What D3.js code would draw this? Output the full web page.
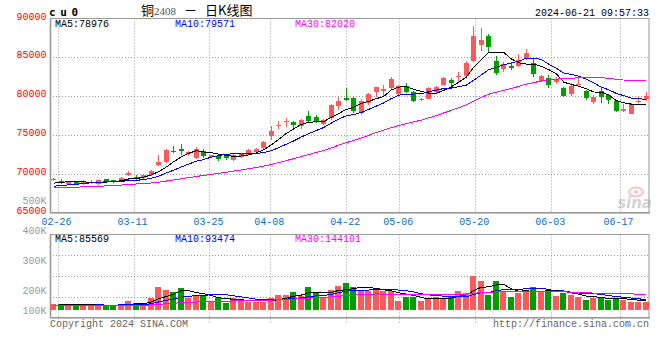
<!DOCTYPE html>
<html>
<head>
<meta charset="utf-8">
<script src="https://cdn.jsdelivr.net/npm/d3@7"></script>
<style>
  body { margin: 0; background: #fff; }
  svg { display: block; }
</style>
</head>
<body>
<svg id="chart" width="660" height="360"></svg>
<script>
// ---- data ----
var dates = ["02-23","02-26","02-27","02-28","02-29","03-01","03-04","03-05","03-06","03-07","03-08",
  "03-11","03-12","03-13","03-14","03-15","03-18","03-19","03-20","03-21","03-22",
  "03-25","03-26","03-27","03-28","03-29","04-01","04-02","04-03",
  "04-08","04-09","04-10","04-11","04-12","04-15","04-16","04-17","04-18","04-19",
  "04-22","04-23","04-24","04-25","04-26","04-29","04-30",
  "05-06","05-07","05-08","05-09","05-10","05-13","05-14","05-15","05-16","05-17",
  "05-20","05-21","05-22","05-23","05-24","05-27","05-28","05-29","05-30","05-31",
  "06-03","06-04","06-05","06-06","06-07","06-11","06-12","06-13","06-14",
  "06-17","06-18","06-19","06-20","06-21"];

var opens = [69190,69060,68720,69060,68720,68850,68720,69320,69150,69060,69870,
  69620,69490,69830,71110,71490,72990,73200,72560,72090,72990,
  72180,72350,72260,71750,72180,72480,72780,73290,
  74910,76110,76620,76620,76190,77470,77340,76450,77220,78800,
  79740,79740,77810,79100,80550,80720,81100,
  80250,81270,80590,79480,79690,80550,81400,82130,82430,82600,
  84520,86610,87720,84480,83540,83830,83920,84820,84260,82000,
  82300,81870,81060,80290,81490,80680,79310,80630,80160,
  79390,78070,77770,79270,79610];
var highs = [69530,69360,69060,69100,69150,69190,69270,69400,69230,69620,70380,
  69910,70000,70510,72480,73250,73540,73890,72900,73460,73200,
  72480,72600,72480,72690,72690,73200,73330,74190,
  76110,76830,77170,76750,77050,78030,77520,77090,78970,79950,
  81020,79910,79610,80380,81230,81400,82510,
  81490,81740,80720,79820,81150,81270,82510,82340,83110,84520,
  89000,88790,88060,85160,84430,84300,85370,86010,84860,82720,
  82720,82430,81150,81740,82430,80800,80160,81020,80290,
  79520,79010,79140,80040,80590];
var lows = [69060,68720,68630,68590,68630,68720,68630,68890,68850,68980,69700,
  69190,69400,69740,70980,71410,72690,72430,72350,71920,72050,
  72090,71620,71840,71620,72090,72390,72690,73200,
  74310,75810,76020,75590,75760,76530,76530,76280,76870,78160,
  79350,77860,77600,78880,79860,79950,80970,
  80120,80380,79310,79350,79610,80460,81320,81100,81790,82510,
  84430,85840,85630,82720,83150,83370,83790,84650,82430,81870,
  81020,81570,79860,80040,81400,79520,79010,79180,79010,
  77940,77900,77690,79100,79390];
var closes = [69400,68850,68980,68630,69060,68930,69150,68980,68930,69530,70130,
  69360,69910,70430,71580,73120,72780,72990,72780,73200,72310,
  72390,71960,72050,72480,72600,73120,73250,74060,
  75550,76280,76830,76230,76960,76830,76700,76960,78880,79440,
  79520,78030,79440,80250,81150,80930,82210,
  81320,80500,79440,79690,81060,81190,82380,81740,82640,84300,
  87720,87170,86270,82940,84090,83580,84600,85500,82900,82600,
  81490,82040,80040,81320,81610,79780,79950,79910,79520,
  78030,78370,79050,79440,79990];
var volumes = [53000,53000,47000,38000,47000,38000,47000,32000,32000,57000,84000,
  63000,38000,112000,214000,186000,168000,205000,109000,131000,124000,
  84000,106000,63000,109000,90000,75000,75000,75000,
  106000,140000,140000,168000,124000,214000,168000,106000,186000,223000,
  245000,214000,171000,171000,192000,171000,171000,
  78000,115000,121000,84000,100000,115000,109000,121000,177000,158000,
  316000,270000,137000,270000,177000,115000,152000,171000,214000,177000,
  183000,131000,152000,137000,115000,94000,109000,109000,90000,
  109000,94000,75000,75000,69000];

// closes / volumes before 02-23, estimated from where the MA lines start
var priorCloses = [68200,68050,67900,67850,67700,67800,67950,67700,67600,67550,
  67700,67900,68400,68700,68600,68500,68450,68600,68350,68600,
  68200,67950,67900,68050,68100,68350,68500,68750,69000];
var priorVolumes = [35000,33000,37000,32000,34000,36000,31000,33000,35000,37000,
  34000,32000,36000,38000,35000,33000,37000,34000,36000,39000,
  35000,37000,34000,38000,36000,39000,37000,40000,38000];

var maLatest = [78976, 79571, 82020];
var volMaLatest = [85569, 93474, 144101];
var maNames = ["MA5", "MA10", "MA30"];
var maSpans = [5, 10, 30];

var tickLabels = ["02-26","03-11","03-25","04-08","04-22","05-06","05-20","06-03","06-17"];
var priceTicks = [65000, 70000, 75000, 80000, 85000, 90000];
var volTicks = [100000, 200000, 300000, 400000];

// ---- layout ----
var mono = "'Liberation Mono', 'DejaVu Sans Mono', monospace";
var red = "#fa5a5a", green = "#009c00";
var maColors = ["#000000", "#0000ff", "#ff00ff"];
var left = 50, right = 650;
var mainTop = 18.5, mainBot = 212.7;
var volTop = 234.5, volBot = 317.7;

var svg = d3.select("#chart");

var xBand = d3.scaleBand().domain(dates).range([left, right]);
var xGrid = d3.scalePoint().domain(dates).range([left, right]);
var yPrice = d3.scaleLinear().domain([65000, 90000]).range([mainBot, mainTop]);
var yVol = d3.scaleLinear().domain([0, 700000]).range([309.7, 234.2]);
// the volume labels sit on their own spacing in the original
var yVolLabel = d3.scaleLinear().domain([0, 500000]).range([354, 203.5]);

function cx(d) { return xBand(d) + xBand.bandwidth() / 2; }

function movingAvg(prior, values, n) {
    var all = prior.concat(values), off = prior.length;
    return values.map(function (v, i) {
        var s = 0;
        for (var j = i + off - n + 1; j <= i + off; j++) s += all[j];
        return s / n;
    });
}

// ---- grid ----
var grid = svg.append("g").attr("stroke", "#9a9a9a").attr("stroke-dasharray", "1,2");
[70000, 75000, 80000, 85000].forEach(function (v) {
    var y = Math.round(yPrice(v)) + 0.5;
    grid.append("line").attr("x1", left).attr("x2", right).attr("y1", y).attr("y2", y);
});
d3.range(1, 4).forEach(function (k) {
    var y = Math.round(volTop + k * (volBot - volTop) / 4) + 0.5;
    grid.append("line").attr("x1", left).attr("x2", right).attr("y1", y).attr("y2", y);
});
tickLabels.forEach(function (t) {
    var x = Math.round(xGrid(t)) + 0.5;
    grid.append("line").attr("x1", x).attr("x2", x).attr("y1", mainTop).attr("y2", mainBot);
    grid.append("line").attr("x1", x).attr("x2", x).attr("y1", volTop).attr("y2", volBot + 5);
});

// ---- frames ----
var frame = svg.append("g").attr("fill", "none").attr("stroke", "#999");
frame.append("rect").attr("x", left + 0.5).attr("y", mainTop).attr("width", right - left - 1.5).attr("height", mainBot - mainTop).attr("stroke-width", 1);
frame.append("rect").attr("x", left + 0.5).attr("y", volTop).attr("width", right - left - 1.5).attr("height", volBot - volTop).attr("stroke-width", 1);
frame.append("line").attr("x1", left + 0.5).attr("x2", left + 0.5).attr("y1", mainTop).attr("y2", mainBot).attr("stroke-width", 1.6);
frame.append("line").attr("x1", left).attr("x2", right).attr("y1", mainBot).attr("y2", mainBot).attr("stroke-width", 1.6);
frame.append("line").attr("x1", left + 0.5).attr("x2", left + 0.5).attr("y1", volTop).attr("y2", volBot).attr("stroke-width", 1.6);
frame.append("line").attr("x1", left).attr("x2", right).attr("y1", volBot).attr("y2", volBot).attr("stroke-width", 1.6);

// ---- sina watermark ----
var wm = svg.append("g").attr("opacity", 0.45);
wm.append("ellipse").attr("cx", 636).attr("cy", 192).attr("rx", 7).attr("ry", 4.5)
    .attr("fill", "none").attr("stroke", "#f08080").attr("stroke-width", 2);
wm.append("circle").attr("cx", 636).attr("cy", 192).attr("r", 2).attr("fill", "#f08080");
wm.append("text").attr("x", 652).attr("y", 208).attr("text-anchor", "end")
    .attr("font-family", "'DejaVu Sans', sans-serif").attr("font-size", 15)
    .attr("font-weight", "bold").attr("font-style", "italic").attr("fill", "#a0a0a0")
    .text("sina");

// ---- candles ----
var candles = svg.append("g").attr("shape-rendering", "crispEdges");
dates.forEach(function (d, i) {
    var up = closes[i] >= opens[i];
    var col = up ? red : green;
    var x = Math.floor(cx(d));
    candles.append("line")
        .attr("x1", x + 0.5).attr("x2", x + 0.5)
        .attr("y1", yPrice(highs[i])).attr("y2", yPrice(lows[i]))
        .attr("stroke", col);
    var top = yPrice(Math.max(opens[i], closes[i]));
    var bot = yPrice(Math.min(opens[i], closes[i]));
    candles.append("rect")
        .attr("x", x - 2).attr("width", 5)
        .attr("y", top).attr("height", Math.max(1, bot - top))
        .attr("fill", col);
});

// ---- volume bars ----
var bars = svg.append("g").attr("shape-rendering", "crispEdges");
bars.selectAll("rect").data(dates).enter().append("rect")
    .attr("x", function (d) { return Math.floor(cx(d)) - 3; })
    .attr("width", 6)
    .attr("y", function (d, i) { return yVol(volumes[i]); })
    .attr("height", function (d, i) { return yVol(0) - yVol(volumes[i]); })
    .attr("fill", function (d, i) { return closes[i] >= opens[i] ? red : green; });

// ---- moving averages ----
var maLayer = svg.append("g").attr("fill", "none").attr("stroke-width", 1).attr("shape-rendering", "crispEdges");
maSpans.forEach(function (n, k) {
    var pm = movingAvg(priorCloses, closes, n);
    var vm = movingAvg(priorVolumes, volumes, n);
    maLayer.append("path")
        .attr("d", d3.line().x(function (d, i) { return cx(dates[i]); }).y(function (d) { return yPrice(d); })(pm))
        .attr("stroke", maColors[k]);
    maLayer.append("path")
        .attr("d", d3.line().x(function (d, i) { return cx(dates[i]); }).y(function (d) { return yVol(d); })(vm))
        .attr("stroke", maColors[k]);
});

// ---- texts ----
function txt(x, y, s, color, anchor) {
    return svg.append("text").attr("x", x).attr("y", y)
        .attr("font-family", mono).attr("font-size", 10)
        .attr("fill", color).attr("text-anchor", anchor || "start").text(s);
}

priceTicks.forEach(function (v) { txt(46.5, yPrice(v) + 1, v, "#ff0000", "end"); });
txt(46.5, yVolLabel(500000), "500K", "#999", "end");
volTicks.forEach(function (v) {
    txt(46.5, Math.min(yVolLabel(v), volBot - 4), (v / 1000) + "K", "#999", "end");
});
tickLabels.forEach(function (t) { txt(xGrid(t) - 1, 225, t, "#0a70c4", "middle"); });

maNames.forEach(function (name, k) {
    txt(55 + 120 * k, 26.5, name + ":" + maLatest[k], maColors[k]);
    txt(55 + 120 * k, 241.5, name + ":" + volMaLatest[k], maColors[k]);
});

svg.append("text").attr("x", 49).attr("y", 16)
    .attr("font-family", "'DejaVu Sans Mono', monospace").attr("font-size", 11)
    .attr("font-weight", "bold").attr("letter-spacing", 4.6).text("cu0");

var title = svg.append("text").attr("x", 141).attr("y", 15)
    .attr("font-family", "'Noto Sans CJK SC', sans-serif").attr("font-size", 13).attr("fill", "#000");
title.append("tspan").text("铜");
title.append("tspan").attr("font-family", "'Liberation Serif', serif").attr("font-size", 11).attr("fill", "#555").text("2408");
title.append("tspan").attr("dx", 8).text("－");
title.append("tspan").attr("dx", 8).text("日K线图");

txt(649, 16, "2024-06-21 09:57:33", "#000", "end");
txt(50, 326.5, "Copyright 2024 SINA.COM", "#666");
txt(649, 326.5, "http://finance.sina.com.cn", "#666", "end");
</script>
</body>
</html>
